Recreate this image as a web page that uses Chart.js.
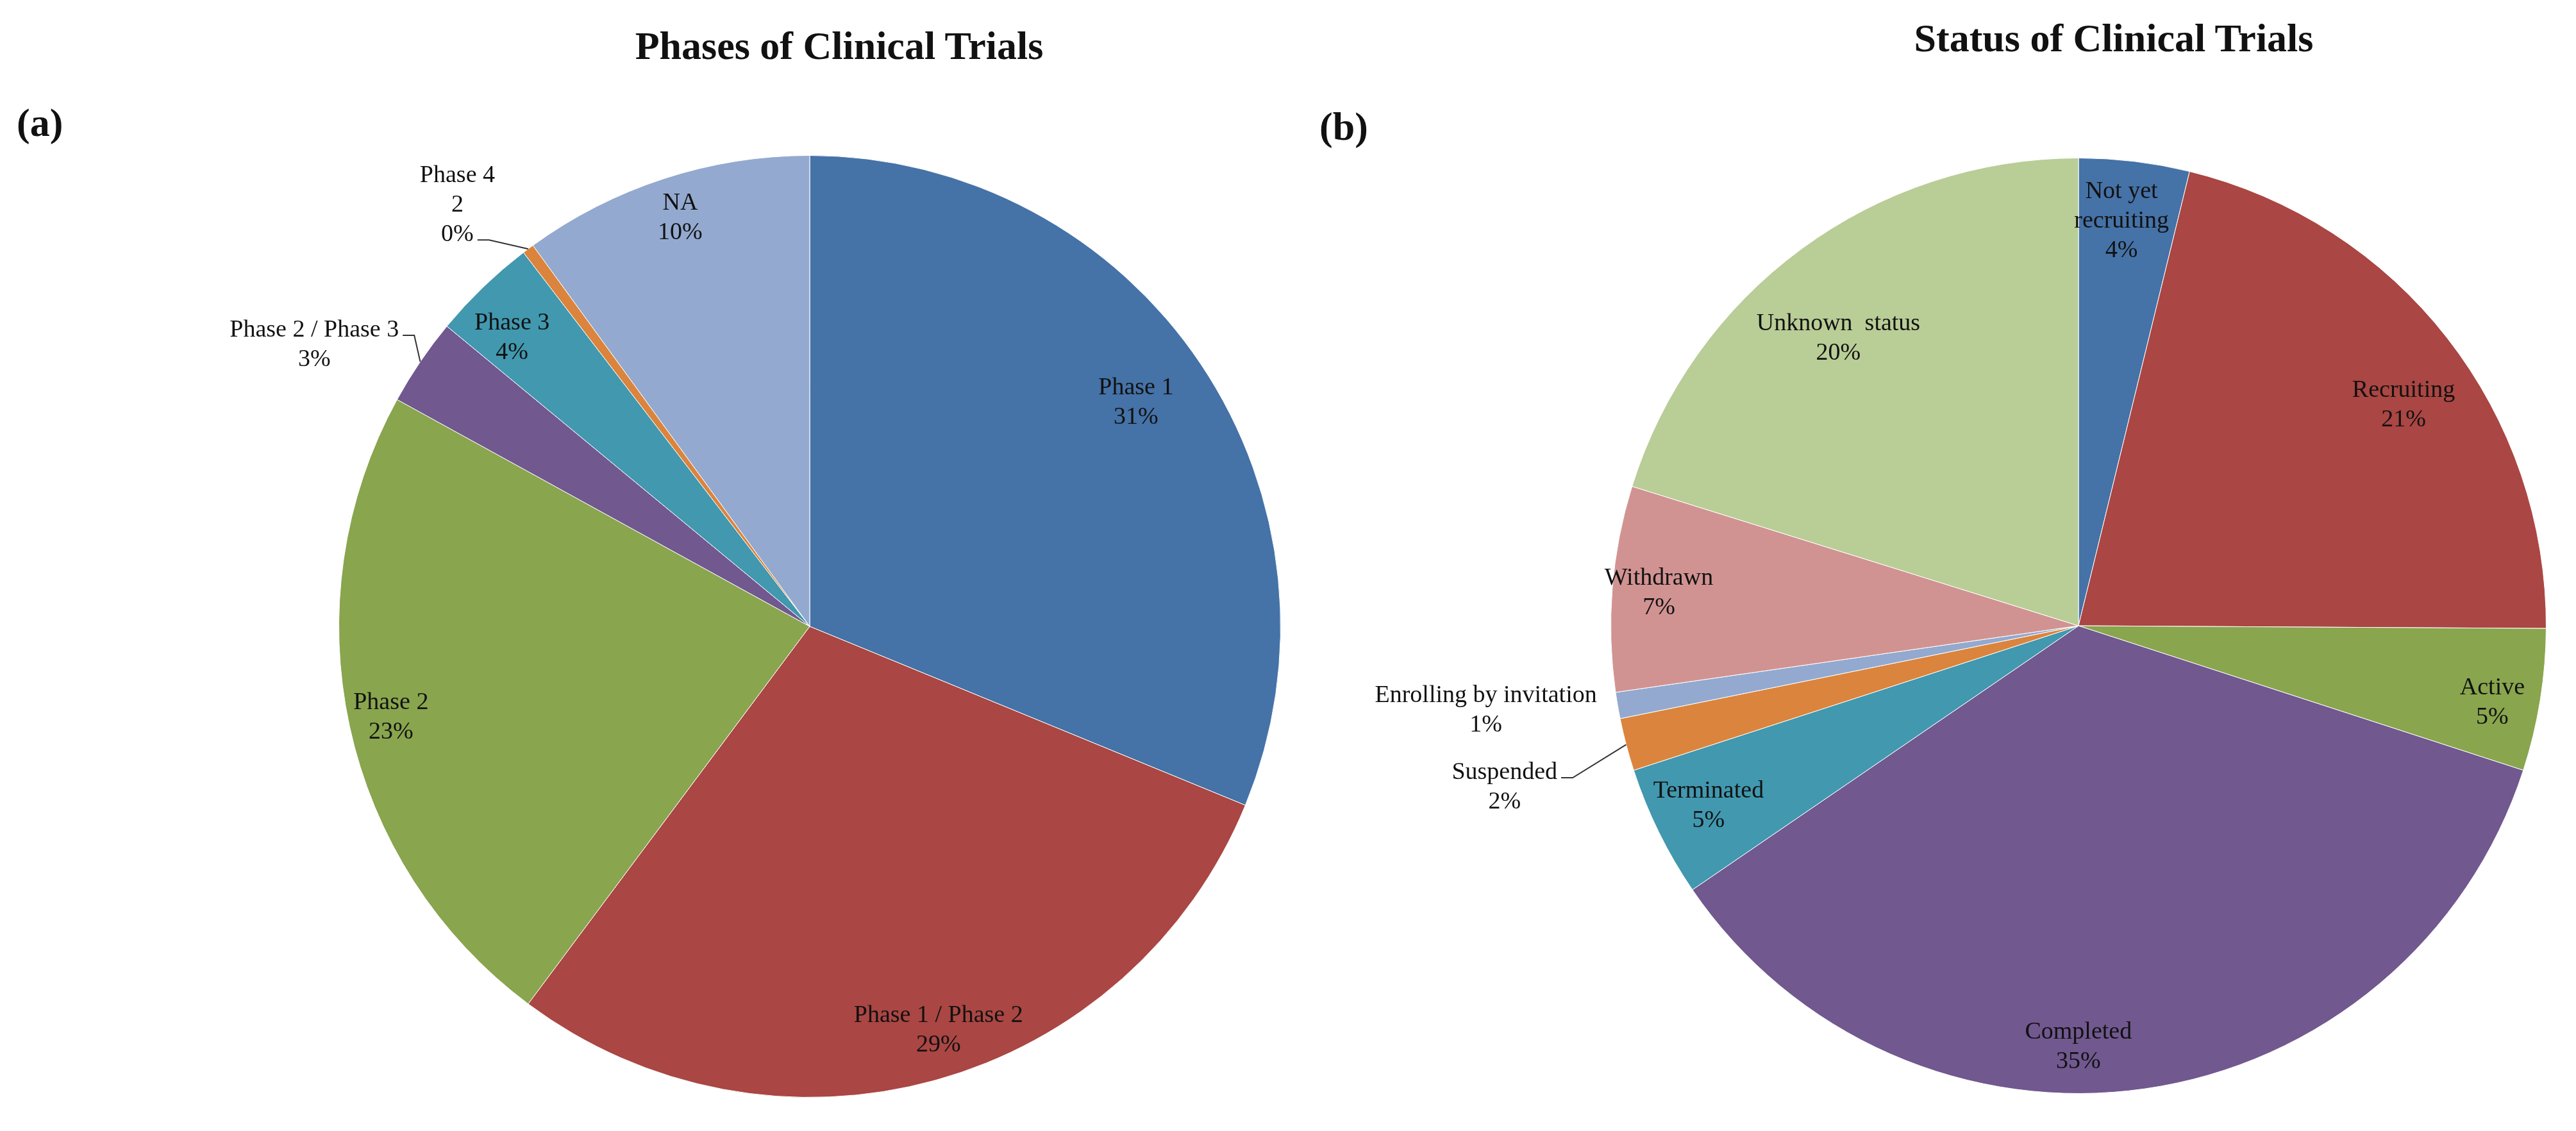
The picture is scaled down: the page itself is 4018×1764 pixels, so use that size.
<!DOCTYPE html>
<html>
<head>
<meta charset="utf-8">
<script src="https://cdn.jsdelivr.net/npm/chart.js@4.4.0/dist/chart.umd.min.js"></script>
<style>
  body { margin: 0; background: #fff; }
  #page { position: relative; width: 4018px; height: 1764px; background: #fff; overflow: hidden; }
  .box { position: absolute; top: 0; width: 2009px; height: 1764px; }
  .ttl, .tag { position: absolute; font-family: "Liberation Serif", "DejaVu Serif", serif; font-weight: bold; color: #111; white-space: nowrap; line-height: 1; }
  .ttl { font-size: 62px; transform: translateX(-50%); }
  .tag { font-size: 62px; }
</style>
</head>
<body>
<div id="page">
  <div class="box" style="left:0"><canvas id="phaseChart"></canvas></div>
  <div class="box" style="left:2009px"><canvas id="statusChart"></canvas></div>
  <div class="ttl" style="left:1309px; top:40px">Phases of Clinical Trials</div>
  <div class="ttl" style="left:3297px; top:28px">Status of Clinical Trials</div>
  <div class="tag" style="left:26px; top:160px">(a)</div>
  <div class="tag" style="left:2058px; top:166px">(b)</div>
</div>
<script>
// (a) phases - number of trials
const phaseLabels = ['Phase 1', 'Phase 1 / Phase 2', 'Phase 2', 'Phase 2 / Phase 3', 'Phase 3', 'Phase 4', 'NA'];
const phaseValues = [156, 145, 114, 15, 18, 2, 50];

// (b) status - number of trials
const statusLabels = ['Not yet\nrecruiting', 'Recruiting', 'Active', 'Completed', 'Terminated', 'Suspended', 'Enrolling by invitation', 'Withdrawn', 'Unknown  status'];
const statusValues = [21, 117, 27, 195, 25, 10, 5, 39, 111];

const phaseColors = ['#4572A7', '#AA4643', '#89A54E', '#71588F', '#4198AF', '#DB843D', '#93A9CF'];
const statusColors = ['#4572A7', '#AA4643', '#89A54E', '#71588F', '#4198AF', '#DB843D', '#93A9CF', '#D19392', '#B9CD96'];

// where each label sits: r = fraction of radius, a = degrees off the slice middle
const phaseLabelPos = [
    { r: 0.84, a: -0.6 },
    { r: 0.90, a: -2.2 },
    { r: 0.91, a: 0 },
    { r: 1.21, a: -4.6, lead: 0 },
    { r: 0.88, a: -2 },
    { r: 1.166, a: -3.2, lead: 2, showValue: true },
    { r: 0.91, a: 0.4 }
];
const statusLabelPos = [
    { r: 0.87, a: -0.8 },
    { r: 0.84, a: 3.8 },
    { r: 0.90, a: 1.4 },
    { r: 0.90, a: 8.2 },
    { r: 0.88, a: 0.2 },
    { r: 1.275, a: -1, lead: 0 },
    { r: 1.28, a: 1.7 },
    { r: 0.90, a: -0.1 },
    { r: 0.80, a: -3.6 }
];

const sliceLabels = {
    id: 'sliceLabels',
    afterDatasetsDraw(chart, args, opts) {
        const ctx = chart.ctx;
        const ds = chart.data.datasets[0];
        const total = ds.data.reduce((s, v) => s + v, 0);
        const meta = chart.getDatasetMeta(0);
        const lh = 46;
        ctx.save();
        ctx.font = '38px "Liberation Serif", "DejaVu Serif", serif';
        ctx.fillStyle = '#111';
        ctx.textAlign = 'center';
        ctx.textBaseline = 'middle';
        meta.data.forEach((arc, i) => {
            const p = opts.pos[i];
            const mid = (arc.startAngle + arc.endAngle) / 2;
            const ang = mid + p.a * Math.PI / 180;
            const x = arc.x + Math.cos(ang) * arc.outerRadius * p.r;
            const y = arc.y + Math.sin(ang) * arc.outerRadius * p.r;
            let lines = chart.data.labels[i].split('\n');
            if (p.showValue) lines.push(String(ds.data[i]));
            lines.push(Math.round(ds.data[i] / total * 100) + '%');
            const y0 = y - (lines.length - 1) * lh / 2;
            lines.forEach((t, k) => ctx.fillText(t, x, y0 + k * lh));
            if (p.lead !== undefined) {
                const w = ctx.measureText(lines[p.lead]).width;
                const sx = x + w / 2 + 6;
                const sy = y0 + p.lead * lh + 8;
                const ex = arc.x + Math.cos(mid) * arc.outerRadius;
                const ey = arc.y + Math.sin(mid) * arc.outerRadius;
                ctx.strokeStyle = '#333';
                ctx.lineWidth = 2;
                ctx.beginPath();
                ctx.moveTo(sx, sy);
                ctx.lineTo(sx + 18, sy);
                ctx.lineTo(ex, ey);
                ctx.stroke();
            }
        });
        ctx.restore();
    }
};

function pieChart(id, labels, values, colors, pos, pad) {
    return new Chart(document.getElementById(id), {
        type: 'pie',
        data: {
            labels: labels,
            datasets: [{
                data: values,
                backgroundColor: colors,
                borderColor: '#ffffff',
                borderWidth: 1
            }]
        },
        options: {
            responsive: true,
            maintainAspectRatio: false,
            animation: false,
            layout: { padding: pad },
            plugins: {
                legend: { display: false },
                tooltip: { enabled: false },
                sliceLabels: { pos: pos }
            }
        },
        plugins: [sliceLabels]
    });
}

pieChart('phaseChart', phaseLabels, phaseValues, phaseColors, phaseLabelPos, { top: 242, bottom: 52, left: 528, right: 11 });
pieChart('statusChart', statusLabels, statusValues, statusColors, statusLabelPos, { top: 246, bottom: 58, left: 503, right: 46 });
</script>
</body>
</html>
